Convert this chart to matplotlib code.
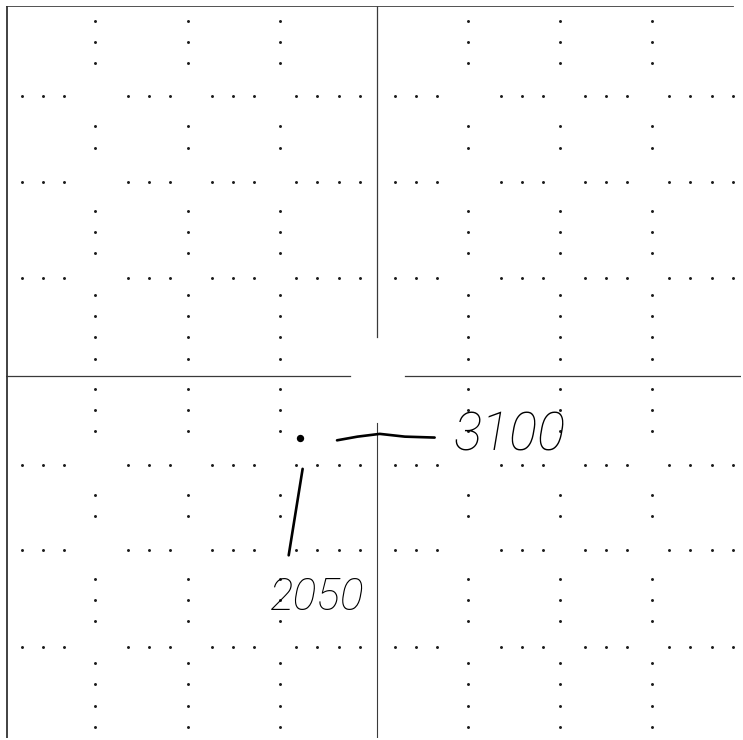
import numpy as np
import matplotlib
matplotlib.use('Agg')
import matplotlib.pyplot as plt

# sketch values: one point with its two hand-written coordinates
point_x = -0.83
point_y = -0.69
label_y = '3100'
label_x = '2050'

# graph paper: dotted guide lines (grid units, scanned so not exactly integer)
grid_x = [-3.034, -2.033, -1.043, 0.979, 1.969, 2.958]
grid_y = [3.033, 2.098, 1.054, -0.978, -1.902, -2.957]

PX_X = 92.96   # pixels per unit
PX_Y = 92.0
pitch = 21.1
gap = 14.5

fig = plt.figure(figsize=(7.43, 7.40), dpi=100)
ax = fig.add_axes([6 / 743, 2 / 740, 735 / 743, 732 / 740])
ax.set_xlim(-371 / PX_X, 364 / PX_X)
ax.set_ylim(-363 / PX_Y, 369 / PX_Y)
ax.axis('off')


def dot_run(start, stop, step, lines, tol):
    vals = np.arange(start, stop, step)
    keep = [v for v in vals if min(abs(v - g) for g in lines) > tol]
    return np.array(keep)


# dots along the vertical guide lines
vy = np.concatenate([
    dot_run(354 / PX_Y, 0, -pitch / PX_Y, grid_y, gap / PX_Y),
    dot_run(-14 / PX_Y, -360 / PX_Y, -pitch / PX_Y, grid_y, gap / PX_Y),
])
for gx in grid_x:
    ax.scatter(np.full(len(vy), gx), vy, s=4.5, color='#1a1a1a', lw=0)

# dots along the horizontal guide lines
hx = np.concatenate([
    dot_run(-355 / PX_X, 0, pitch / PX_X, grid_x, gap / PX_X),
    dot_run(18 / PX_X, 362 / PX_X, pitch / PX_X, grid_x, gap / PX_X),
])
for gy in grid_y:
    ax.scatter(hx, np.full(len(hx), gy), s=4.5, color='#1a1a1a', lw=0)

# main axes, with the blank patch around the origin
axis_c = '#3a3a3a'
ax.plot([-371 / PX_X, -27 / PX_X], [-0.01, -0.01], color=axis_c, lw=0.9)
ax.plot([28 / PX_X, 364 / PX_X], [-0.01, -0.01], color=axis_c, lw=0.9)
ax.plot([0, 0], [369 / PX_Y, 38 / PX_Y], color=axis_c, lw=0.9)
ax.plot([0, 0], [-48 / PX_Y, -363 / PX_Y], color=axis_c, lw=0.8)

# paper border (top, left dark; bottom faint)
ax.plot([-371 / PX_X, 356 / PX_X], [369 / PX_Y, 369 / PX_Y], color='#444444', lw=1.3)
ax.plot([-370 / PX_X, -370 / PX_X], [369 / PX_Y, -363 / PX_Y], color='#333333', lw=1.3)
ax.plot([-370 / PX_X, 100 / PX_X], [-364 / PX_Y, -364 / PX_Y], color='#cccccc', lw=1.0)

# hand-drawn point and leader strokes
ax.scatter([point_x], [point_y], s=28, color='black', lw=0, zorder=5)
ax.plot([point_x + 0.03, point_x - 0.12], [point_y - 0.33, point_y - 1.27],
        color='black', lw=1.9, solid_capstyle='round')
ax.plot([point_x + 0.40, point_x + 0.62, point_x + 0.86, point_x + 1.13, point_x + 1.45],
        [point_y - 0.02, point_y + 0.02, point_y + 0.05, point_y + 0.02, point_y + 0.01],
        color='black', lw=1.9, solid_capstyle='round')

hand = dict(family=['Roboto', 'DejaVu Sans'], style='italic', weight='light',
            color='black', ha='center', va='center')
ax.text(point_x + 2.26, point_y + 0.03, label_y, fontsize=38, **hand)
ax.text(point_x + 0.18, point_y - 1.73, label_x, fontsize=32, **hand)

fig.savefig('out.png', dpi=100, facecolor='white')
